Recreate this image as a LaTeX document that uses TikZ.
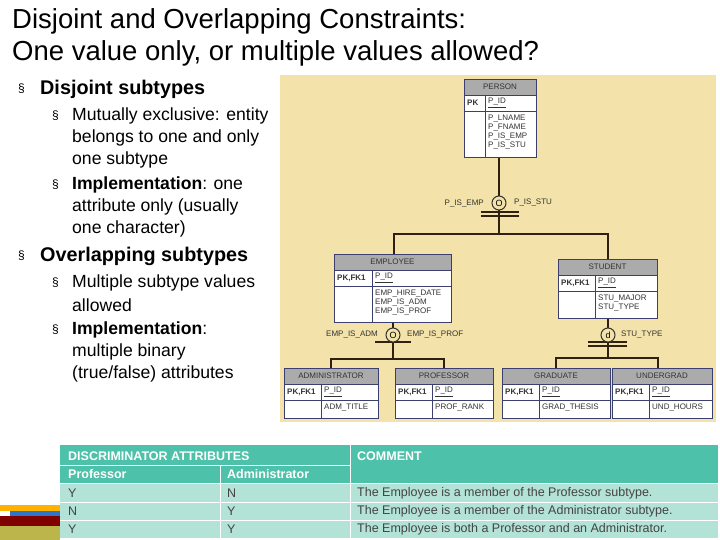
\documentclass[tikz,border=0pt]{standalone}
\usepackage{fontspec}
\setmainfont{Liberation Sans}
\usetikzlibrary{positioning}
\definecolor{beige}{HTML}{F3E2A9}
\definecolor{hdr}{HTML}{ABABAB}
\definecolor{navy}{HTML}{3A3F6E}
\definecolor{teal}{HTML}{4DC1A9}
\definecolor{lteal}{HTML}{B3E2D6}
\definecolor{txt}{HTML}{444444}
\tikzset{
  ertxt/.style={font=\fontsize{8}{9}\selectfont, text=black!80, inner sep=0pt},
  erline/.style={draw=black!75!brown, line width=1.6pt},
  tb/.style={font=\fontsize{12.5}{14}\selectfont, text=txt, inner sep=0pt, anchor=west},
  th/.style={font=\fontsize{12.5}{14}\selectfont\bfseries, text=white, inner sep=0pt, anchor=west},
  title/.style={font=\fontsize{27.5}{30}\selectfont, inner sep=0pt, anchor=west},
  b1/.style={font=\fontsize{19.8}{22}\selectfont\bfseries, inner sep=0pt, anchor=west},
  b2/.style={font=\fontsize{17.6}{20}\selectfont, inner sep=0pt, anchor=west},
  bs/.style={font=\fontsize{12}{14}\selectfont, inner sep=0pt, anchor=west},
  circ/.style={circle, draw=black!80, fill=beige, line width=1pt, minimum size=14pt, inner sep=0pt, font=\fontsize{9}{9}\selectfont},
}
% \ent{name}{x1}{y1}{x2}{y2}{split}{title}{pk}{attrs}
\newcommand{\ent}[9]{%
  \fill[white] (#2,#3) rectangle (#4,#5);
  \fill[hdr] (#2,#3) rectangle (#4,#3+16);
  \draw[navy, line width=0.8pt] (#2,#3) rectangle (#4,#5);
  \draw[navy, line width=0.8pt] (#2,#3+16) -- (#4,#3+16) (#2,#3+32) -- (#4,#3+32) (#6,#3+16) -- (#6,#5);
  \node[ertxt] (#1) at ({(#2+#4)/2},{#3+8}) {#7};
  \node[ertxt, anchor=west] at ({#2+3},{#3+24}) {\textbf{#8}};
  \node[ertxt, anchor=west] at ({#6+3},{#3+24}) {\underline{P\_ID}};
  \node[ertxt, anchor=north west, align=left] at ({#6+3},{#3+36}) {#9};
}
\begin{document}
\begin{tikzpicture}[x=1pt,y=-1pt]
\useasboundingbox (0,0) rectangle (720,540);
\fill[white] (0,0) rectangle (720,540);
% title
\node[title] at (12,21) {Disjoint and Overlapping Constraints:};
\node[title] at (12,53) {One value only, or multiple values allowed?};
% bullets
\node[bs] at (18,89) {\S};
\node[b1] at (40,89) {Disjoint subtypes};
\node[bs] at (52,116) {\S};
\node[b2] at (72,116) {Mutually exclusive: entity};
\node[b2] at (72,138) {belongs to one and only};
\node[b2] at (72,160) {one subtype};
\node[bs] at (52,185) {\S};
\node[b2] at (72,185) {\textbf{Implementation}: one};
\node[b2] at (72,207) {attribute only (usually};
\node[b2] at (72,229) {one character)};
\node[bs] at (18,256) {\S};
\node[b1] at (40,256) {Overlapping subtypes};
\node[bs] at (52,283) {\S};
\node[b2] at (72,283) {Multiple subtype values};
\node[b2] at (72,305) {allowed};
\node[bs] at (52,330) {\S};
\node[b2] at (72,330) {\textbf{Implementation}:};
\node[b2] at (72,352) {multiple binary};
\node[b2] at (72,374) {(true/false) attributes};
% ER background
\fill[beige] (280,75) rectangle (716,422);
% connectors
\coordinate (c1) at (499,203);
\coordinate (c2) at (393,335);
\coordinate (c3) at (608,335);
\draw[erline] (499,157) -- (c1);
\draw[erline] (c1) -- (499,234) (394,254) -- (394,234) -- (608,234) -- (608,259);
\draw[erline] (481,212) -- (519,212) (481,216) -- (519,216);
\draw[erline] (393,322) -- (c2) (c2) -- (393,359) (331,368) -- (331,359) -- (444,359) -- (444,368);
\draw[erline] (375,342) -- (411,342);
\draw[erline] (608,318) -- (c3) (c3) -- (608,358) (556,368) -- (556,358) -- (658,358) -- (658,368);
\draw[erline] (588,342) -- (627,342) (588,346) -- (627,346);
\node[circ] (o1) at (c1) {O};
\node[circ] (o2) at (c2) {O};
\node[circ] (d1) at (c3) {d};
\node[ertxt, anchor=east] at (484,204) {P\_IS\_EMP};
\node[ertxt, anchor=west] at (514,203) {P\_IS\_STU};
\node[ertxt, anchor=east] at (378,335) {EMP\_IS\_ADM};
\node[ertxt, anchor=west] at (407,335) {EMP\_IS\_PROF};
\node[ertxt, anchor=west] at (621,335) {STU\_TYPE};
% entities
\ent{person}{464}{79}{536}{157}{485}{PERSON}{PK}{P\_LNAME\\P\_FNAME\\P\_IS\_EMP\\P\_IS\_STU}
\ent{employee}{334}{254}{451}{322}{372}{EMPLOYEE}{PK,FK1}{EMP\_HIRE\_DATE\\EMP\_IS\_ADM\\EMP\_IS\_PROF}
\ent{student}{558}{259}{657}{318}{595}{STUDENT}{PK,FK1}{STU\_MAJOR\\STU\_TYPE}
\ent{admin}{284}{368}{378}{418}{321}{ADMINISTRATOR}{PK,FK1}{ADM\_TITLE}
\ent{prof}{395}{368}{493}{418}{432}{PROFESSOR}{PK,FK1}{PROF\_RANK}
\ent{grad}{502}{368}{610}{418}{539}{GRADUATE}{PK,FK1}{GRAD\_THESIS}
\ent{under}{612}{368}{712}{418}{649}{UNDERGRAD}{PK,FK1}{UND\_HOURS}
% decoration bottom-left
\fill[orange!60!yellow] (0,505) rectangle (60,511);
\fill[teal!60!blue] (10,511) rectangle (60,516);
\fill[red!50!black] (0,516) rectangle (60,526);
\fill[olive!60] (0,526) rectangle (60,540);
% table
\fill[teal] (60,445) rectangle (718,483);
\fill[lteal] (60,483) rectangle (718,538);
\draw[white, line width=1pt] (60,465) -- (350,465) (60,483) -- (718,483) (60,502) -- (718,502) (60,520) -- (718,520) (60,538) -- (718,538)
  (220,465) -- (220,538) (350,445) -- (350,538);
\node[th] (h1) at (68,456) {DISCRIMINATOR ATTRIBUTES};
\node[th] (h2) at (357,456) {COMMENT};
\node[th] (h3) at (68,474) {Professor};
\node[th] (h4) at (227,474) {Administrator};
\node[tb] (r1a) at (68,493) {Y};
\node[tb] (r1b) at (227,493) {N};
\node[tb] (r1c) at (357,493) {The Employee is a member of the Professor subtype.};
\node[tb] (r2a) at (68,511) {N};
\node[tb] (r2b) at (227,511) {Y};
\node[tb] (r2c) at (357,511) {The Employee is a member of the Administrator subtype.};
\node[tb] (r3a) at (68,529) {Y};
\node[tb] (r3b) at (227,529) {Y};
\node[tb] (r3c) at (357,529) {The Employee is both a Professor and an Administrator.};
\end{tikzpicture}
\end{document}
